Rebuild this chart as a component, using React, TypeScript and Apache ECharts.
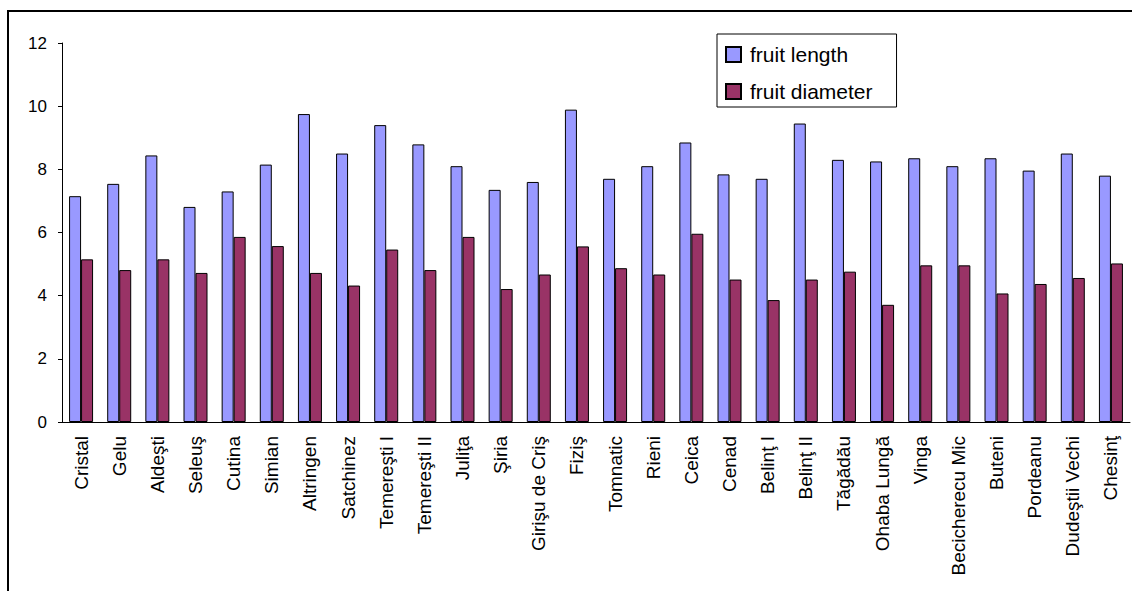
import React, { useEffect, useRef } from "react";
import * as echarts from "echarts";

const categories = [
  "Cristal", "Gelu", "Aldeşti", "Seleuş", "Cutina", "Simian", "Altringen", "Satchinez",
  "Temereşti I", "Temereşti II", "Juliţa", "Şiria", "Girişu de Criş", "Fiziş", "Tomnatic",
  "Rieni", "Ceica", "Cenad", "Belinţ I", "Belinţ II", "Tăgădău", "Ohaba Lungă", "Vinga",
  "Becicherecu Mic", "Buteni", "Pordeanu", "Dudeştii Vechi", "Chesinţ",
];

const fruitLength = [
  7.15, 7.54, 8.44, 6.81, 7.30, 8.15, 9.75, 8.50, 9.40, 8.79, 8.10, 7.35, 7.60, 9.89,
  7.70, 8.10, 8.85, 7.84, 7.70, 9.45, 8.30, 8.25, 8.35, 8.10, 8.35, 7.96, 8.50, 7.80,
];

const fruitDiameter = [
  5.15, 4.81, 5.15, 4.72, 5.86, 5.57, 4.72, 4.32, 5.46, 4.81, 5.86, 4.21, 4.67, 5.56,
  4.87, 4.67, 5.96, 4.51, 3.86, 4.51, 4.76, 3.71, 4.96, 4.96, 4.07, 4.37, 4.56, 5.02,
];

const seriesNames = ["fruit length", "fruit diameter"];

export default function App() {
  const ref = useRef<HTMLDivElement>(null);
  useEffect(() => {
    document.body.style.margin = "0";
    const chart = echarts.init(ref.current!, null, { renderer: "svg" });
    const font = "'Liberation Sans', Arial, sans-serif";
    chart.setOption({
      animation: false,
      backgroundColor: "#ffffff",
      textStyle: { fontFamily: font },
      graphic: [
        {
          type: "polyline",
          shape: { points: [[8, 595], [8, 11], [1132, 11]] },
          style: { stroke: "#000", lineWidth: 2, fill: "none" },
          z: 100,
        },
      ],
      grid: { left: 62, right: 2, top: 43, bottom: 169, containLabel: false },
      legend: {
        data: seriesNames,
        orient: "vertical",
        left: 717,
        top: 34,
        borderColor: "#000",
        borderWidth: 1,
        padding: [10, 24, 5, 8],
        itemWidth: 15,
        itemHeight: 15,
        itemGap: 16,
        icon: "rect",
        textStyle: { fontSize: 21, color: "#000", fontFamily: font, padding: [0, 0, 0, 4] },
      },
      xAxis: {
        type: "category",
        data: categories,
        axisLine: { lineStyle: { color: "#000", width: 1 } },
        axisTick: { lineStyle: { color: "#000" }, length: 5, alignWithLabel: false },
        axisLabel: {
          rotate: 90,
          interval: 0,
          fontSize: 19,
          color: "#000",
          margin: 14,
          fontFamily: font,
        },
        splitLine: { show: false },
      },
      yAxis: {
        type: "value",
        min: 0,
        max: 12,
        interval: 2,
        axisLine: { show: true, lineStyle: { color: "#000", width: 1 } },
        axisTick: { show: true, length: 4, lineStyle: { color: "#000" } },
        axisLabel: { fontSize: 17, color: "#000", margin: 15, fontFamily: font },
        splitLine: { show: false },
      },
      series: [
        {
          name: seriesNames[0],
          type: "bar",
          data: fruitLength,
          barWidth: 12,
          barGap: "0%",
          itemStyle: { color: "#9999FF", borderColor: "#000", borderWidth: 1 },
        },
        {
          name: seriesNames[1],
          type: "bar",
          data: fruitDiameter,
          barWidth: 12,
          barGap: "0%",
          itemStyle: { color: "#993366", borderColor: "#000", borderWidth: 1 },
        },
      ],
    });
    return () => chart.dispose();
  }, []);
  return <div ref={ref} style={{ width: 1132, height: 591 }} />;
}
